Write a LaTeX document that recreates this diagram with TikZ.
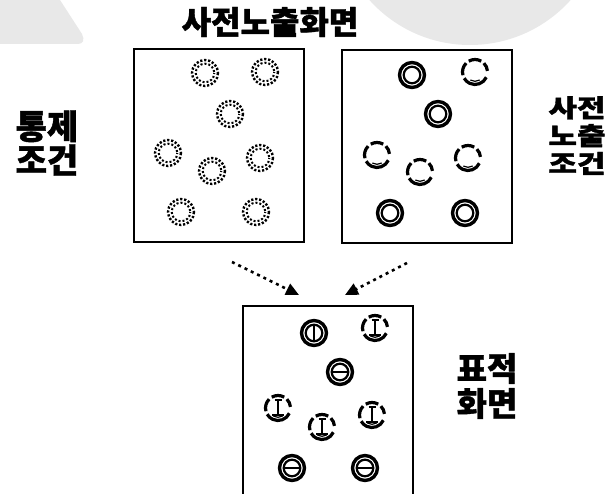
\documentclass[tikz,border=0pt]{standalone}
\usepackage{fontspec}
\usepackage{graphicx}
\setmainfont{Noto Sans CJK KR}[BoldFeatures={FakeBold=1.2}]
\usetikzlibrary{arrows.meta}
\definecolor{bggray}{HTML}{E8E8E8}
\tikzset{
  box/.style={draw, line width=1.9pt, inner sep=0pt},
  lbl/.style={inner sep=0pt, align=left},
  darr/.style={line width=2.6pt, dash pattern=on 3pt off 4pt, -{Triangle[length=13pt,width=12pt]}},
  dotring/.pic={
    \draw[line width=2.4pt,dash pattern=on 2.2pt off 1.8pt] (0,0) circle[radius=13];
    \draw[line width=2pt,dash pattern=on 2pt off 2pt,dash phase=1pt] (0,0) circle[radius=9.3];},
  dblring/.pic={
    \draw[line width=3.4pt] (0,0) circle[radius=12.5];
    \draw[line width=2.2pt] (0,0) circle[radius=8.3];},
  brkring/.pic={
    \foreach \a/\b in {25/150,165/225,240/300,315/355}
      \draw[line width=3.2pt] (\a:12.5) arc[start angle=\a,end angle=\b,radius=12.5];
    \draw[line width=1.2pt] (60:9.3) arc[start angle=60,end angle=120,radius=9.3];},
  vbar/.pic={\draw[line width=2.4pt] (0,-8.5)--(0,8.5);},
  hbar/.pic={\draw[line width=2.4pt] (-8.5,0)--(8.5,0);},
  ibar/.pic={
    \draw[line width=2.2pt] (0,-8)--(0,7);
    \draw[line width=2.2pt] (-3.5,-8)--(3.5,-8);
    \draw[line width=2.4pt] (-6,7)--(6,7);},
}
\begin{document}
\begin{tikzpicture}[x=1pt,y=-1pt]
\useasboundingbox (0,0) rectangle (613,494);
\fill[white] (0,0) rectangle (613,494);
% faint background shapes
\fill[bggray] (0,0) -- (60,0) -- (82,34) .. controls (85,40) and (83,44) .. (78,44) -- (0,44) -- cycle;
\begin{scope}
\clip (0,0) rectangle (613,494);
\fill[bggray] (470,-90) circle[radius=135];
\end{scope}
% title
\node[lbl, font=\fontsize{32}{32}\selectfont\bfseries] (title) at (270,22) {사전노출화면};
% boxes
\node[box, minimum width=170pt, minimum height=193pt] (L) at (219,145.5) {};
\node[box, minimum width=170pt, minimum height=193pt] (R) at (427,146.5) {};
\coordinate (Bbl) at (243,497);
\coordinate (Btl) at (243,306);
\coordinate (Btr) at (413,306);
\coordinate (Bbr) at (413,497);
\draw[line width=1.9pt] (Bbl) -- (Btl) -- (Btr) -- (Bbr);
% left box rings
\foreach \x/\y in {205/73,265/72,230/114,168/153,212/171,260/158,181/212,256/212}
  \pic at (\x,\y) {dotring};
% right box rings
\foreach \x/\y in {412/75,438/114,390/213,465/213}
  \pic at (\x,\y) {dblring};
\foreach \x/\y in {475/72,377/155,420/172,468/158}
  \pic at (\x,\y) {brkring};
% target box
\pic at (314,333) {dblring}; \pic at (314,333) {vbar};
\pic at (340,372) {dblring}; \pic at (340,372) {hbar};
\pic at (292,468) {dblring}; \pic at (292,468) {hbar};
\pic at (365,468) {dblring}; \pic at (365,468) {hbar};
\foreach \x/\y in {375/328,278/408,322/427,372/415}{
  \pic at (\x,\y) {brkring}; \pic at (\x,\y) {ibar};}
% arrows
\coordinate (a1s) at (232,262);
\coordinate (a1e) at (299,295);
\coordinate (a2s) at (407,263);
\coordinate (a2e) at (345,295);
\draw[darr] (a1s) -- (a1e);
\draw[darr] (a2s) -- (a2e);
% side labels
\node[lbl, font=\fontsize{34}{34}\selectfont\bfseries] (ctl) at (47,143) {통제\\조건};
\node[inner sep=0pt] (pre) at (577,138) {\scalebox{1}[0.8]{\fontsize{31}{29}\selectfont\bfseries\begin{tabular}{@{}l@{}}사전\\노출\\조건\end{tabular}}};
\node[lbl, font=\fontsize{33}{35}\selectfont\bfseries] (tgt) at (487,386) {표적\\화면};
\end{tikzpicture}
\end{document}
